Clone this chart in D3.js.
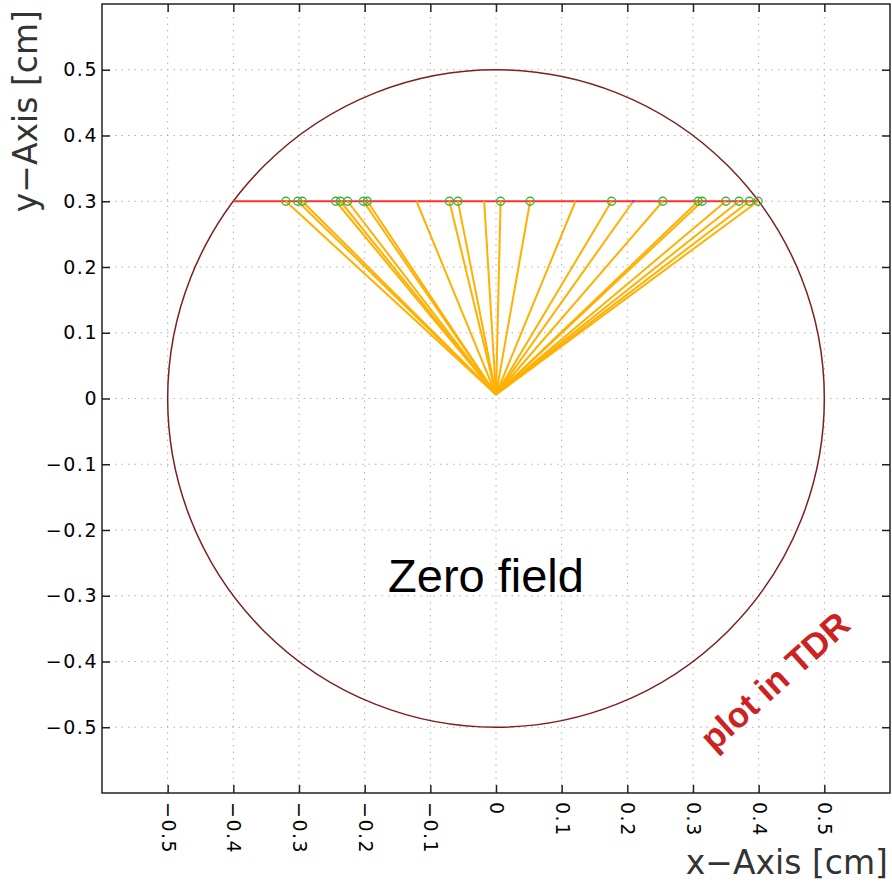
<!DOCTYPE html>
<html>
<head>
<meta charset="utf-8">
<script src="https://cdn.jsdelivr.net/npm/d3@7"></script>
<style>
  html, body { margin: 0; padding: 0; background: #fff; }
  svg { display: block; }
</style>
</head>
<body>
<svg id="chart" width="892" height="882"></svg>
<script>
// ---- data ----
const tickValues = [-0.5, -0.4, -0.3, -0.2, -0.1, 0, 0.1, 0.2, 0.3, 0.4, 0.5];
const detectorRadius = 0.5;
const planeY = 0.3;
const planeX = [-0.4, 0.4];
const trackStart = [0, 0.006];
// x positions where the drift tracks reach the plane y = 0.3
const trackEndX = [-0.320, -0.302, -0.295, -0.244, -0.237, -0.226, -0.202, -0.196,
                   -0.121, -0.071, -0.058, -0.018, 0.007, 0.052, 0.121, 0.176,
                   0.209, 0.254, 0.308, 0.314, 0.350, 0.370, 0.386, 0.399];
// hit markers (green circles) on the plane
const hitX = [-0.320, -0.302, -0.295, -0.244, -0.237, -0.226, -0.202, -0.196,
              -0.071, -0.058, 0.007, 0.052, 0.176, 0.254, 0.308, 0.314,
              0.350, 0.370, 0.386, 0.399];
const extraDotX = [0.209];

// ---- layout ----
const svg = d3.select("#chart");
const x = d3.scaleLinear().domain([-0.6, 0.6]).range([102, 890]);
const y = d3.scaleLinear().domain([-0.6, 0.6]).range([793, 4]);
const fmt = d => d === 0 ? "0" : d3.format(".1f")(d);
const tickFont = "'DejaVu Sans', sans-serif";

// grid
const grid = svg.append("g");
grid.selectAll("line.gx").data(tickValues).join("line")
  .attr("x1", d => x(d)).attr("x2", d => x(d))
  .attr("y1", y(0.6)).attr("y2", y(-0.6))
  .attr("stroke", "#b0b0b0").attr("stroke-width", 1).attr("stroke-dasharray", "1.5,5");
grid.selectAll("line.gy").data(tickValues).join("line")
  .attr("y1", d => y(d)).attr("y2", d => y(d))
  .attr("x1", x(-0.6)).attr("x2", x(0.6))
  .attr("stroke", "#b0b0b0").attr("stroke-width", 1).attr("stroke-dasharray", "1.5,5");

// detector circle
svg.append("ellipse")
  .attr("cx", x(0)).attr("cy", y(0))
  .attr("rx", x(detectorRadius) - x(0)).attr("ry", y(0) - y(detectorRadius))
  .attr("fill", "none").attr("stroke", "#7e1f1f").attr("stroke-width", 1.5);

// readout plane
svg.append("line")
  .attr("x1", x(planeX[0])).attr("x2", x(planeX[1]))
  .attr("y1", y(planeY)).attr("y2", y(planeY))
  .attr("stroke", "#ff3030").attr("stroke-width", 2);

// tracks
svg.append("g").selectAll("line").data(trackEndX).join("line")
  .attr("x1", x(trackStart[0])).attr("y1", y(trackStart[1]))
  .attr("x2", d => x(d)).attr("y2", y(planeY))
  .attr("stroke", "#ffb000").attr("stroke-width", 2);

// hits
svg.append("g").selectAll("circle").data(hitX).join("circle")
  .attr("cx", d => x(d)).attr("cy", y(planeY)).attr("r", 4)
  .attr("fill", "none").attr("stroke", "#40b040").attr("stroke-width", 1.4);
svg.append("g").selectAll("circle").data(extraDotX).join("circle")
  .attr("cx", d => x(d)).attr("cy", y(planeY)).attr("r", 1.3)
  .attr("fill", "#9b30ff");

// axes (inward ticks)
function styleAxis(g) {
  g.select(".domain").remove();
  g.selectAll(".tick line").attr("stroke", "#222").attr("stroke-width", 1.5);
  g.selectAll("text").attr("fill", "#000")
    .style("font-family", tickFont).style("font-size", "19px").style("letter-spacing", "1.5px");
}
const axisB = svg.append("g").attr("transform", `translate(0,${y(-0.6)})`)
  .call(d3.axisBottom(x).tickValues(tickValues).tickFormat(fmt).tickSize(-8).tickSizeOuter(0));
styleAxis(axisB);
axisB.selectAll("text")
  .attr("transform", "rotate(90)").attr("x", 9).attr("y", 0).attr("dy", "0.35em")
  .style("text-anchor", "start");

const axisL = svg.append("g").attr("transform", `translate(${x(-0.6)},0)`)
  .call(d3.axisLeft(y).tickValues(tickValues).tickFormat(fmt).tickSize(-8).tickSizeOuter(0).tickPadding(4));
styleAxis(axisL);

const axisT = svg.append("g").attr("transform", `translate(0,${y(0.6)})`)
  .call(d3.axisTop(x).tickValues(tickValues).tickFormat("").tickSize(-8).tickSizeOuter(0));
styleAxis(axisT);
const axisR = svg.append("g").attr("transform", `translate(${x(0.6)},0)`)
  .call(d3.axisRight(y).tickValues(tickValues).tickFormat("").tickSize(-8).tickSizeOuter(0));
styleAxis(axisR);

// frame
svg.append("rect")
  .attr("x", x(-0.6)).attr("y", y(0.6))
  .attr("width", x(0.6) - x(-0.6)).attr("height", y(-0.6) - y(0.6))
  .attr("fill", "none").attr("stroke", "#222").attr("stroke-width", 1.5);

// axis titles
svg.append("text")
  .attr("transform", "translate(37,10) rotate(-90)")
  .attr("text-anchor", "end")
  .style("font-family", tickFont).style("font-size", "33px").attr("fill", "#333")
  .text("y\u2212Axis [cm]");
svg.append("text")
  .attr("x", 888).attr("y", 874)
  .attr("text-anchor", "end")
  .style("font-family", tickFont).style("font-size", "33px").attr("fill", "#333")
  .text("x\u2212Axis [cm]");

// annotations
svg.append("text")
  .attr("x", 486).attr("y", 592)
  .attr("text-anchor", "middle")
  .style("font-family", "'Liberation Sans', Arial, sans-serif").style("font-size", "47px")
  .attr("fill", "#000")
  .text("Zero field");

svg.append("text")
  .attr("transform", "translate(783,690) rotate(-42)")
  .attr("text-anchor", "middle")
  .style("font-family", "'Liberation Sans', Arial, sans-serif").style("font-size", "35px")
  .style("font-weight", "bold")
  .attr("fill", "#cc2222")
  .text("plot in TDR");
</script>
</body>
</html>
